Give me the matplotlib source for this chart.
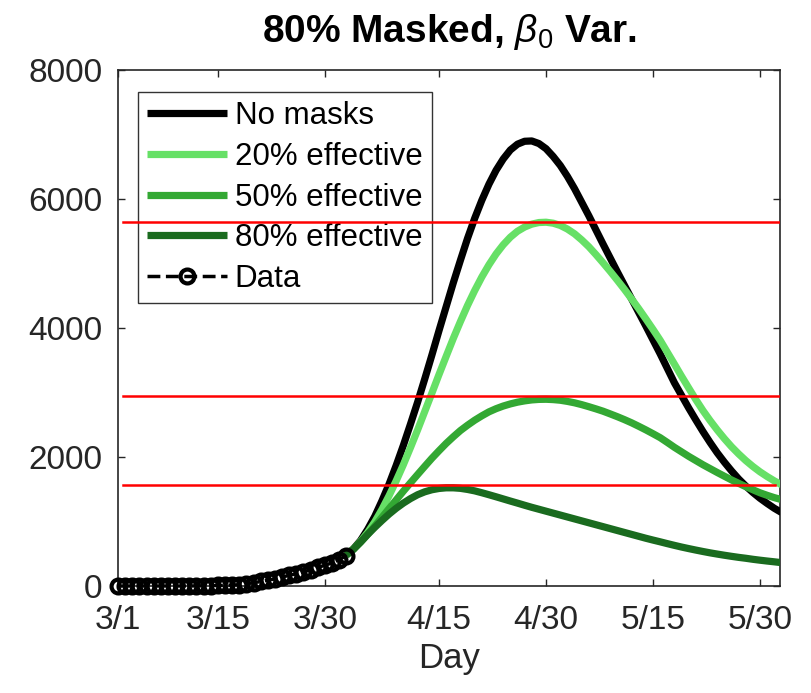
import matplotlib
matplotlib.use("Agg")
import matplotlib.pyplot as plt

plt.rcParams['font.family'] = ['Liberation Sans', 'DejaVu Sans']
plt.rcParams['mathtext.fontset'] = 'custom'
plt.rcParams['mathtext.rm'] = 'Liberation Sans'
plt.rcParams['mathtext.it'] = 'Liberation Sans:italic'
plt.rcParams['mathtext.bf'] = 'Liberation Sans:bold'

# ---- data (day 0 = 3/1) ----
data_days = list(range(0, 33))
data_vals = [0, 0, 0, 0, 0, 0, 0, 0, 0, 0, 0, 2, 3, 5, 8, 10, 15, 20, 35, 50,
             70, 90, 110, 140, 165, 190, 220, 250, 290, 320, 360, 410, 470]

model_days = list(range(32, 94))
no_masks = [480, 575, 705, 878, 1080, 1320, 1580, 1870, 2180, 2510,
            2850, 3210, 3580, 3960, 4330, 4700, 5050, 5390, 5700, 5980,
            6230, 6445, 6620, 6760, 6850, 6895, 6900, 6860, 6780, 6660,
            6520, 6350, 6160, 5950, 5740, 5520, 5300, 5085, 4870, 4660,
            4450, 4240, 4030, 3815, 3600, 3375, 3150, 2955, 2760, 2575,
            2395, 2225, 2065, 1920, 1785, 1660, 1550, 1450, 1360, 1280,
            1205, 1140]
eff20 = [480, 570, 690, 830, 995, 1186, 1400, 1632, 1880, 2146,
         2420, 2705, 2990, 3279, 3560, 3838, 4100, 4350, 4580, 4791,
         4980, 5148, 5290, 5408, 5500, 5565, 5610, 5635, 5640, 5625,
         5590, 5534, 5460, 5366, 5260, 5138, 5010, 4878, 4740, 4598,
         4450, 4298, 4140, 3978, 3810, 3625, 3440, 3252, 3070, 2890,
         2720, 2565, 2420, 2285, 2160, 2048, 1945, 1853, 1770, 1697,
         1630, 1570]
eff50 = [480, 570, 680, 800, 930, 1065, 1200, 1335, 1470, 1600,
         1728, 1855, 1980, 2097, 2210, 2313, 2410, 2493, 2570, 2638,
         2700, 2749, 2790, 2823, 2850, 2870, 2885, 2893, 2895, 2890,
         2880, 2862, 2840, 2812, 2780, 2746, 2710, 2668, 2625, 2579,
         2530, 2476, 2420, 2361, 2300, 2226, 2150, 2080, 2010, 1945,
         1880, 1820, 1760, 1702, 1645, 1592, 1540, 1492, 1445, 1406,
         1370, 1340]
eff80 = [480, 570, 680, 800, 910, 1015, 1115, 1205, 1285, 1355,
         1415, 1460, 1492, 1512, 1522, 1522, 1514, 1497, 1475, 1446,
         1415, 1383, 1350, 1317, 1285, 1252, 1220, 1190, 1160, 1130,
         1100, 1070, 1040, 1010, 980, 950, 920, 890, 860, 830,
         800, 770, 740, 712, 685, 657, 630, 604, 580, 557,
         535, 514, 495, 477, 460, 444, 430, 414, 400, 387,
         375, 362]

thresholds = [5650, 2950, 1560]

xtick_days = [0, 14, 29, 45, 60, 75, 90]
xtick_labels = ['3/1', '3/15', '3/30', '4/15', '4/30', '5/15', '5/30']
ytick_vals = [0, 2000, 4000, 6000, 8000]

series_labels = ['No masks', '20% effective', '50% effective', '80% effective', 'Data']
colors = ['black', (0.40, 0.88, 0.40), (0.20, 0.66, 0.20), (0.10, 0.42, 0.12)]

fig = plt.figure(figsize=(8.12, 6.93), dpi=100)
ax = fig.add_axes([118/812, 1 - 586/693, 662/812, 516/693])

lw = 5.2
for vals, c, lab in zip([no_masks, eff20, eff50, eff80], colors, series_labels[:4]):
    ax.plot(model_days, vals, color=c, lw=lw, label=lab, solid_capstyle='butt',
            solid_joinstyle='round', zorder=3)

ax.plot(data_days, data_vals, linestyle='--', color='black', marker='o',
        markersize=10, markerfacecolor='none', markeredgewidth=3, lw=2.5,
        label=series_labels[4], clip_on=False, zorder=4)

xmaxes = [0.998, 0.998, 0.992]
for t, xm in zip(thresholds, xmaxes):
    ax.axhline(t, xmin=0.008, xmax=xm, color='red', lw=1.8, zorder=10)

ax.set_xlim(0, 92.8)
ax.set_ylim(0, 8000)
ax.set_xticks(xtick_days)
ax.set_xticklabels(xtick_labels)
ax.set_yticks(ytick_vals)
ax.tick_params(direction='in', length=5, width=1, top=True, right=True,
               labelsize=24, colors=(0.15, 0.15, 0.15), labelcolor=(0.15, 0.15, 0.15))
ax.tick_params(axis='x', pad=14)
ax.tick_params(axis='y', pad=11)
for s in ax.spines.values():
    s.set_color((0.15, 0.15, 0.15))
    s.set_linewidth(1.2)

ax.set_xlabel('Day', fontsize=25, color=(0.15, 0.15, 0.15), labelpad=4)
ax.set_title(r'80% Masked, $\beta_{0}$ Var.', fontsize=28, fontweight='bold', pad=20)

leg = ax.legend(loc='upper left', bbox_to_anchor=(20/662, 1 - 22/516),
                borderaxespad=0, fontsize=22.5, handlelength=2.55, handletextpad=0.25,
                labelspacing=0.34, borderpad=0.3, fancybox=False, frameon=True,
                edgecolor='black', numpoints=1)
leg.get_frame().set_linewidth(1.0)
leg.set_zorder(5)

fig.savefig('out.png', dpi=100, facecolor='white')
